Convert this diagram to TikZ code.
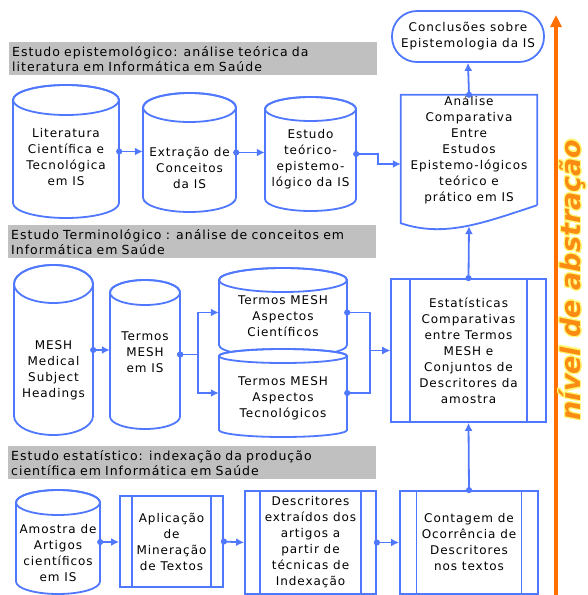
\documentclass[tikz,border=0pt]{standalone}
\usepackage{fontspec}
\setmainfont[LetterSpace=8]{DejaVu Sans}
\newfontfamily\absfont{DejaVu Sans}
\usepackage[copies]{contour}
\usetikzlibrary{arrows.meta,positioning}
\definecolor{flowblue}{RGB}{80,120,255}
\definecolor{bannergray}{RGB}{192,192,192}
\definecolor{absorange}{RGB}{255,110,0}
\definecolor{abstext}{RGB}{250,140,20}
\contourlength{1.1pt}

% cylinder: name, x left, y top, x right, y bottom, ry, text y, text
\newcommand\cylnode[8]{%
  \node[cylbody, minimum width={(#4-#2)*1pt}, minimum height={(#5-#3)*1pt}] (#1) at ({(#2+#4)/2},{-(#3+#5)/2}) {};
  \draw[boxline, fill=white] (#2,{-#3-#6}) -- (#2,{-#5+#6})
    arc[start angle=180, end angle=360, x radius={(#4-#2)/2}, y radius=#6]
    -- (#4,{-#3-#6}) arc[start angle=0, end angle=180, x radius={(#4-#2)/2}, y radius=#6] -- cycle;
  \draw[boxline] ({(#2+#4)/2},{-#3-#6}) ellipse[x radius={(#4-#2)/2}, y radius=#6];
  \node[txt] (#1-t) at ({(#2+#4)/2},-#7) {#8};}

\begin{document}
\begin{tikzpicture}[x=1pt, y=1pt, >={Latex[length=8pt,width=8pt]},
    boxline/.style={draw=flowblue, line width=1.8pt},
    flow/.style={flowblue, line width=1.8pt, {Circle[length=6pt]}->, shorten <=-3pt},
    txt/.style={font=\fontsize{12}{16}\selectfont, align=center, inner sep=0pt},
    cylbody/.style={inner sep=0pt},
    banner/.style={fill=bannergray, font=\fontsize{12.5}{15}\selectfont, align=left,
      text width=362pt, inner xsep=3pt, minimum height=33pt, anchor=north west},
    proc/.style={boxline, fill=white, txt, path picture={
      \draw[flowblue, line width=1.8pt]
        ([xshift=#1]path picture bounding box.north west) -- ([xshift=#1]path picture bounding box.south west)
        ([xshift=-#1]path picture bounding box.north east) -- ([xshift=-#1]path picture bounding box.south east);}},
    proc/.default=15pt,
    term/.style={boxline, rounded corners=25pt, txt, minimum width=152pt, minimum height=51pt}]
  \useasboundingbox[fill=white] (0,0) rectangle (588,-595);

  \node[banner] (b1) at (9,-42) {Estudo epistemológico: análise teórica da\\literatura em Informática em Saúde};
  \node[banner] (b2) at (8,-225) {Estudo Terminológico : análise de conceitos em\\Informática em Saúde};
  \node[banner] (b3) at (8,-446) {Estudo estatístico: indexação da produção\\científica em Informática em Saúde};

  \cylnode{lit}{13}{85}{119}{218}{15}{157}{Literatura\\Científica e\\Tecnológica\\em IS}
  \cylnode{ext}{143}{93}{236}{212}{14.5}{168}{Extração de\\Conceitos\\da IS}
  \cylnode{teo}{265}{97}{356}{211}{12}{159}{Estudo\\teórico-\\epistemo-\\lógico da IS}

  \cylnode{mesh}{14}{265}{93}{435}{19}{370}{MESH\\Medical\\Subject\\Headings}
  \cylnode{tis}{110}{280}{180}{429}{12.5}{352}{Termos\\MESH\\em IS}
  \cylnode{cie}{219}{268}{347}{357}{12}{316}{Termos MESH\\Aspectos\\Científicos}
  \cylnode{tec}{219}{349}{347}{437}{7}{398}{Termos MESH\\Aspectos\\Tecnológicos}

  \cylnode{amo}{16}{490}{100}{594}{12.5}{553}{Amostra de\\Artigos\\científicos\\em IS}

  \node[term] (conc) at (468,-36.5) {Conclusões sobre\\Epistemologia da IS};
  \node[txt, minimum width=136pt, minimum height=110pt] (anal) at (469,-150)
    {Análise\\Comparativa\\Entre\\Estudos\\Epistemo-lógicos\\teórico e\\prático em IS};
  \draw[boxline] (anal.south east) -- (anal.north east) -- (anal.north west) -- ([yshift=-18pt]anal.south west)
    .. controls ([shift={(44pt,-33pt)}]anal.south west) and ([shift={(-52pt,-17pt)}]anal.south east) .. (anal.south east);
  \node[proc=19pt, minimum width=155pt, minimum height=143pt] (stat) at (468.5,-350.5)
    {Estatísticas\\Comparativas\\entre Termos\\MESH e\\Conjuntos de\\Descritores da\\amostra};

  \node[proc=12pt, minimum width=103pt, minimum height=91pt] (apl) at (171.5,-541.5)
    {Aplicação\\de\\Mineração\\de Textos};
  \node[proc=15pt, minimum width=131pt, minimum height=103pt] (desc) at (310.5,-542.5)
    {Descritores\\extraídos dos\\artigos a\\partir de\\técnicas de\\Indexação};
  \node[proc=16.5pt, minimum width=138pt, minimum height=103pt] (cont) at (469,-542.5)
    {Contagem de\\Ocorrência de\\Descritores\\nos textos};

  \draw[flow] (lit.east) -- (lit.east -| ext.west);
  \draw[flow] (ext.east) -- (ext.east -| teo.west);
  \draw[flow] (teo.east) -- ++(22,0) |- ([yshift=-14pt]anal.west);
  \draw[flow] (anal.north) -- (conc.south);

  \draw[flow] (mesh.east) -- (mesh.east -| tis.west);
  \draw[flow] (tis.east) -- ++(18,0) |- (cie.west);
  \draw[flow] (tis.east) -- ++(18,0) |- (tec.west);
  \draw[flow] (cie.east) -- ++(23,0) |- (stat.west);
  \draw[flow] (tec.east) -- ++(23,0) |- (stat.west);
  \draw[flow] (stat.north) -- ([yshift=-21pt]anal.south);

  \draw[flow] (amo.east) -- (amo.east -| apl.west);
  \draw[flow] (apl.east) -- (desc.west);
  \draw[flow] (desc.east) -- (cont.west);
  \draw[flow] (cont.north) -- (stat.south);

  \coordinate (lvbot) at (556,-595);
  \coordinate (lvtop) at (556,-15);
  \draw[absorange, line width=3.5pt, -{Triangle[length=12pt,width=11pt]}] (lvbot) -- (lvtop);
  \node[rotate=90, text=abstext, font=\absfont\bfseries\itshape\fontsize{27}{30}\selectfont] (lvl) at (573,-280)
    {\contour{yellow!55}{nível de abstração}};
\end{tikzpicture}
\end{document}
